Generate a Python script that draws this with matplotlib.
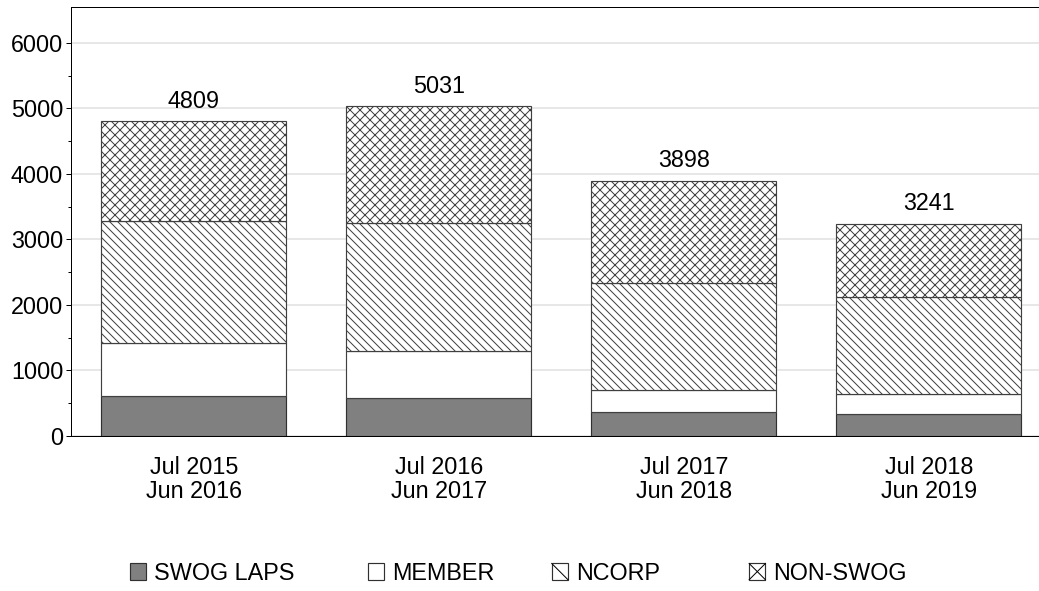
import matplotlib
matplotlib.use("Agg")
import matplotlib.pyplot as plt
import matplotlib.patches as mpatches
from matplotlib.legend_handler import HandlerBase
from matplotlib.lines import Line2D
import numpy as np

plt.rcParams["font.family"] = ["Liberation Sans", "DejaVu Sans"]
plt.rcParams["hatch.linewidth"] = 0.6

# data
periods = ["Jul 2015\nJun 2016", "Jul 2016\nJun 2017", "Jul 2017\nJun 2018", "Jul 2018\nJun 2019"]
swog_laps = [611, 585, 362, 336]
member = [805, 714, 341, 306]
ncorp = [1869, 1951, 1639, 1486]
non_swog = [1524, 1781, 1556, 1113]
series_names = ["SWOG LAPS", "MEMBER", "NCORP", "NON-SWOG"]


class SquareHandler(HandlerBase):
    # small square marker, with one diagonal (or an X) like the reference legend
    def __init__(self, marks):
        super().__init__()
        self.marks = marks

    def create_artists(self, legend, orig, xd, yd, width, height, fontsize, trans):
        s = min(width, height)
        x0, y0 = -xd, -yd + (height - s) / 2
        arts = [mpatches.Rectangle((x0, y0), s, s, facecolor=orig.get_facecolor(),
                                   edgecolor="#303030", linewidth=0.7, transform=trans)]
        if "\\" in self.marks:
            arts.append(Line2D([x0, x0 + s], [y0 + s, y0], color="black", lw=0.6, transform=trans))
        if "/" in self.marks:
            arts.append(Line2D([x0, x0 + s], [y0, y0 + s], color="black", lw=0.6, transform=trans))
        return arts


fig = plt.figure(figsize=(1039 / 120, 591 / 120), dpi=120)
ax = fig.add_axes([0.0688, 0.2623, 0.9432, 0.7259])

x = np.arange(len(periods))
w = 0.755
bs = "\\"
styles = [
    dict(color="#808080", edgecolor="#303030", hatch=None, marks=""),
    dict(color="white", edgecolor="#404040", hatch=None, marks=""),
    dict(color="white", edgecolor="#404040", hatch=bs * 5, marks="\\"),
    dict(color="white", edgecolor="#404040", hatch="xxxx", marks="\\/"),
]

bottom = np.zeros(len(periods))
handles = []
for vals, name, st in zip([swog_laps, member, ncorp, non_swog], series_names, styles):
    ax.bar(x, vals, w, bottom=bottom, color=st["color"], edgecolor=st["edgecolor"],
           hatch=st["hatch"], linewidth=0.7, zorder=3)
    bottom += np.array(vals)
    handles.append(mpatches.Patch(facecolor=st["color"], label=name))

# totals on top
for xi, tot in zip(x, bottom):
    ax.annotate(str(int(tot)), (xi, tot), xytext=(0, 5), textcoords="offset points",
                ha="center", va="bottom", fontsize=14)

ax.set_xlim(-0.5, 3.5)
ax.set_ylim(0, 6550)
ax.set_yticks(np.arange(0, 6001, 1000))
ax.set_yticks(np.arange(0, 6001, 500), minor=True)
ax.yaxis.grid(True, color="#e3e3e3", linewidth=1.0, zorder=0)
ax.set_axisbelow(True)
ax.set_xticks(x)
ax.set_xticklabels(periods, linespacing=1.05)
ax.tick_params(axis="x", length=0, labelsize=14, pad=12)
ax.tick_params(axis="y", which="major", length=3, width=0.6, labelsize=14, pad=2)
ax.tick_params(axis="y", which="minor", length=2, width=0.6)
for sp in ax.spines.values():
    sp.set_linewidth(0.6)
    sp.set_color("black")
ax.spines["right"].set_visible(False)

# legend entries placed along the bottom
leg_x = [0.125, 0.354, 0.531, 0.721]
for h, st, lx in zip(handles, styles, leg_x):
    fig.legend(handles=[h], loc="center left", bbox_to_anchor=(lx, 0.030),
               handler_map={h: SquareHandler(st["marks"])},
               frameon=False, fontsize=14, handlelength=0.7, handleheight=0.7,
               handletextpad=0.35, borderpad=0, borderaxespad=0)

fig.savefig("out.png", dpi=120)
